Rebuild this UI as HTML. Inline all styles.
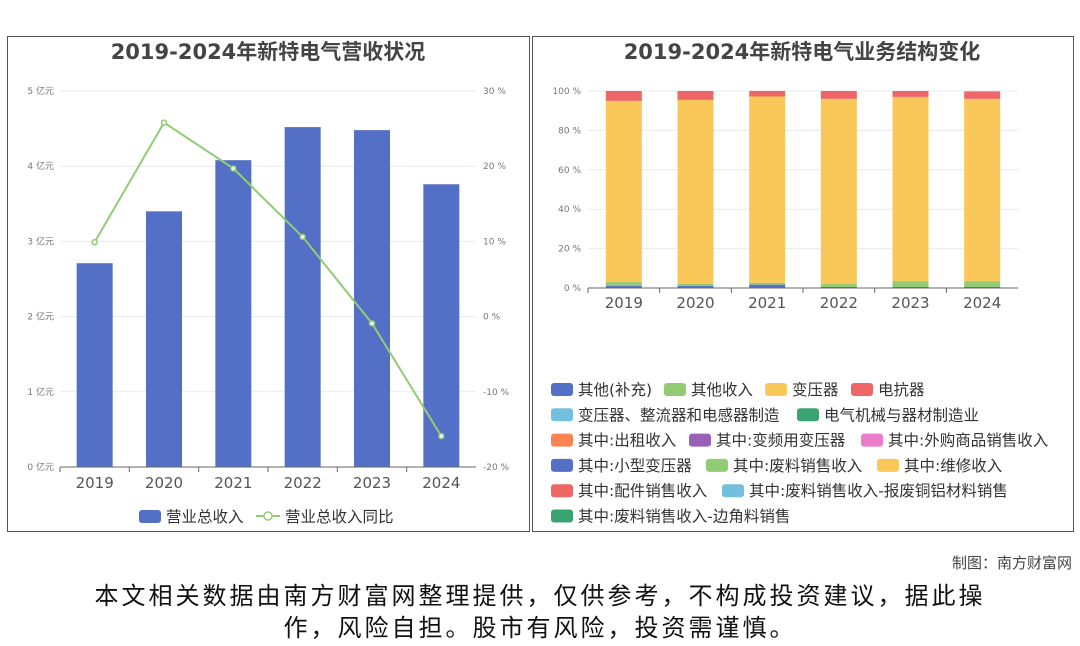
<!DOCTYPE html>
<html><head><meta charset="utf-8">
<style>
body{margin:0;width:1080px;height:646px;background:#fff;font-family:"DejaVu Sans","Noto Sans CJK SC",sans-serif;overflow:hidden;position:relative}
.panel{position:absolute;border:1px solid #555;background:#fff}
svg text{font-family:"DejaVu Sans","Noto Sans CJK SC",sans-serif}
</style></head><body>
<div class="panel" style="left:7px;top:36px;width:521px;height:494px"></div>
<div class="panel" style="left:532px;top:36px;width:540px;height:494px"></div>
<svg id="s" width="1080" height="646" style="position:absolute;left:0;top:0"></svg>
<div style="position:absolute;right:8px;top:552px;font-size:15px;color:#444">制图：南方财富网</div>
<div style="position:absolute;left:0;width:1080px;top:580px;text-align:center;font-size:24px;line-height:32px;color:#111;letter-spacing:3px">本文相关数据由南方财富网整理提供，仅供参考，不构成投资建议，据此操<br>作，风险自担。股市有风险，投资需谨慎。</div>
<script>
const years=['2019','2020','2021','2022','2023','2024'];
const revenue=[2.71,3.40,4.08,4.52,4.48,3.76];
const growth=[9.9,25.8,19.7,10.6,-0.9,-15.9];
const leftTicks=['0 亿元','1 亿元','2 亿元','3 亿元','4 亿元','5 亿元'];
const rightTicks=['-20 %','-10 %','0 %','10 %','20 %','30 %'];
const pctTicks=['0 %','20 %','40 %','60 %','80 %','100 %'];
const segOther=[1,1,1.7,0.5,0.5,0.5];
const segOtherIncome=[2,1.2,1,1.5,3,3];
const segTransformer=[92,93.3,94.5,94,93.5,92.5];
const segReactor=[5,4.5,2.8,4,3,3.8];
const S=document.getElementById('s');const NS='http://www.w3.org/2000/svg';
function el(t,a,txt){const e=document.createElementNS(NS,t);for(const k in a)e.setAttribute(k,a[k]);if(txt!=null)e.textContent=txt;S.appendChild(e);return e;}
let t=el('text',{x:268,y:59,'text-anchor':'middle','font-size':21,'font-weight':'bold',fill:'#444'},'2019-2024年新特电气营收状况');

t=el('text',{x:802,y:59,'text-anchor':'middle','font-size':21,'font-weight':'bold',fill:'#444'},'2019-2024年新特电气业务结构变化');

const L={x0:60,x1:476,yTop:91,yBot:467};
const yL=v=>L.yBot-(v/5)*(L.yBot-L.yTop);
const yR=v=>L.yBot-((v+20)/50)*(L.yBot-L.yTop);
const bw=(L.x1-L.x0)/years.length;const xc=i=>L.x0+bw*(i+0.5);
leftTicks.forEach((s,i)=>{const y=yL(i);
 let g=el('line',{x1:L.x0,x2:L.x1,y1:y,y2:y,stroke:'#e6e9f2'});
 let a=el('text',{x:54,y:y+3,'text-anchor':'end','font-size':9,fill:'#777'},s);
 let b=el('text',{x:483,y:y+3,'font-size':9,fill:'#777'},rightTicks[i]);});
revenue.forEach((v,i)=>{let r=el('rect',{x:xc(i)-18,y:yL(v),width:36,height:yL(0)-yL(v),fill:'#5470c6'});});
let ax=el('line',{x1:L.x0,x2:L.x1,y1:L.yBot,y2:L.yBot,stroke:'#666'});
years.forEach((y,i)=>{let k=el('line',{x1:L.x0+bw*i,x2:L.x0+bw*i,y1:L.yBot,y2:L.yBot+5,stroke:'#666'});
 let a=el('text',{x:xc(i),y:488,'text-anchor':'middle','font-size':15,fill:'#555'},y);});
let pl=el('polyline',{points:growth.map((v,i)=>xc(i)+','+yR(v)).join(' '),fill:'none',stroke:'#91cc75','stroke-width':2});
growth.forEach((v,i)=>{let c=el('circle',{cx:xc(i),cy:yR(v),r:2.5,fill:'#fff',stroke:'#91cc75','stroke-width':1.5});});
let lr=el('rect',{x:139,y:510,width:22,height:13,rx:3,fill:'#5470c6'});
let lt=el('text',{x:166,y:522,'font-size':15.5,fill:'#333'},'营业总收入');
let ll=el('line',{x1:256,x2:280,y1:516,y2:516,stroke:'#91cc75','stroke-width':2});
let lm=el('circle',{cx:268,cy:516,r:4,fill:'#fff',stroke:'#91cc75','stroke-width':1.5});
let lt2=el('text',{x:285,y:522,'font-size':15.5,fill:'#333'},'营业总收入同比');
const R={x0:588,x1:1018,yTop:91,yBot:288};
const yP=v=>R.yBot-(v/100)*(R.yBot-R.yTop);
const bw2=(R.x1-R.x0)/years.length;const xc2=i=>R.x0+bw2*(i+0.5);
pctTicks.forEach((s,i)=>{const y=yP(i*20);
 let g=el('line',{x1:R.x0,x2:R.x1,y1:y,y2:y,stroke:'#e6e9f2'});
 let a=el('text',{x:581,y:y+3,'text-anchor':'end','font-size':9,fill:'#777'},s);});
const series=[[segOther,'#5470c6','other'],[segOtherIncome,'#91cc75','other-income'],[segTransformer,'#fac858','transformer'],[segReactor,'#ee6666','reactor']];
years.forEach((y,i)=>{let acc=0;series.forEach(([arr,c,n])=>{const v=arr[i];
 let r=el('rect',{x:xc2(i)-18,y:yP(acc+v),width:36,height:yP(acc)-yP(acc+v),fill:c});acc+=v;});});
let ax2=el('line',{x1:R.x0,x2:R.x1,y1:R.yBot,y2:R.yBot,stroke:'#666'});
years.forEach((y,i)=>{let k=el('line',{x1:R.x0+bw2*i,x2:R.x0+bw2*i,y1:R.yBot,y2:R.yBot+5,stroke:'#666'});
 let a=el('text',{x:xc2(i),y:308,'text-anchor':'middle','font-size':15,fill:'#555'},y);});
const leg=[
[[551,'#5470c6','其他(补充)'],[664,'#91cc75','其他收入'],[765,'#fac858','变压器'],[851,'#ee6666','电抗器']],
[[551,'#73c0de','变压器、整流器和电感器制造'],[797,'#3ba272','电气机械与器材制造业']],
[[551,'#fc8452','其中:出租收入'],[689,'#9a60b4','其中:变频用变压器'],[861,'#ea7ccc','其中:外购商品销售收入']],
[[551,'#5470c6','其中:小型变压器'],[706,'#91cc75','其中:废料销售收入'],[877,'#fac858','其中:维修收入']],
[[551,'#ee6666','其中:配件销售收入'],[722,'#73c0de','其中:废料销售收入-报废铜铝材料销售']],
[[551,'#3ba272','其中:废料销售收入-边角料销售']]];
leg.forEach((row,ri)=>{const y=390+ri*25.3;row.forEach(([x,c,s])=>{
 let r=el('rect',{x:x,y:y-7,width:22,height:13,rx:3,fill:c});
 let a=el('text',{x:x+27,y:y+5,'font-size':15.5,fill:'#333'},s);});});
</script>
</body></html>
